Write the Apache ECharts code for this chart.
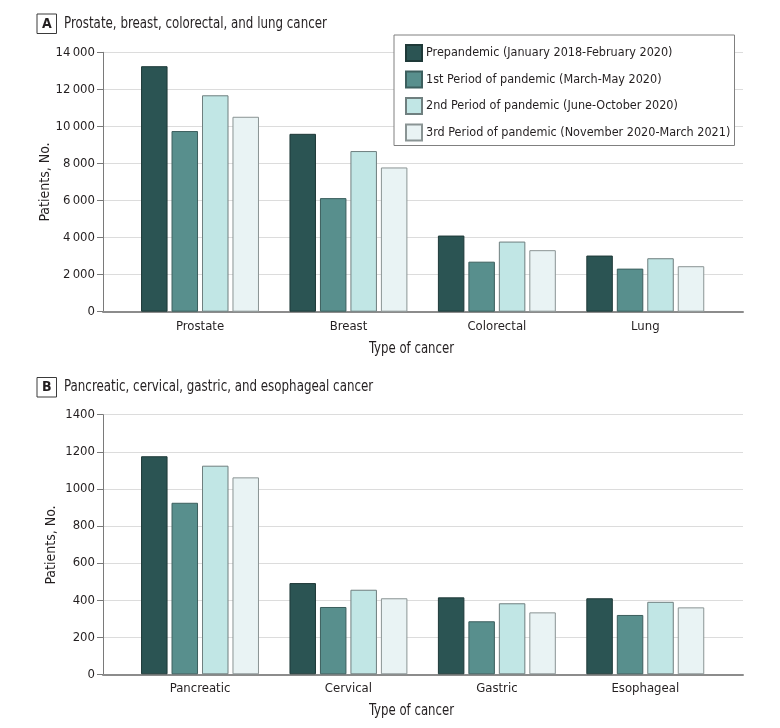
<!DOCTYPE html>
<html>
<head>
<meta charset="utf-8">
<script src="https://cdn.jsdelivr.net/npm/echarts@6/dist/echarts.min.js"></script>
<style>
html,body{margin:0;padding:0;background:#fff;}
#chart{width:780px;height:728px;}
</style>
</head>
<body>
<div id="chart"></div>
<script>
// ---- data ----
const seriesNames = [
  'Prepandemic (January 2018-February 2020)',
  '1st Period of pandemic (March-May 2020)',
  '2nd Period of pandemic (June-October 2020)',
  '3rd Period of pandemic (November 2020-March 2021)'
];
const categoriesA = ['Prostate', 'Breast', 'Colorectal', 'Lung'];
const prepandemicA = [13250, 9600, 4110, 3030];
const period1A = [9750, 6130, 2700, 2325];
const period2A = [11680, 8670, 3785, 2885];
const period3A = [10520, 7785, 3320, 2455];

const categoriesB = ['Pancreatic', 'Cervical', 'Gastric', 'Esophageal'];
const prepandemicB = [1176, 492, 415, 410];
const period1B = [925, 363, 286, 320];
const period2B = [1125, 456, 383, 391];
const period3B = [1062, 410, 334, 361];

const yTickLabelsA = ['0', '2\u2009000', '4\u2009000', '6\u2009000', '8\u2009000', '10\u2009000', '12\u2009000', '14\u2009000'];
const yTickLabelsB = ['0', '200', '400', '600', '800', '1000', '1200', '1400'];

const titleA = 'Prostate, breast, colorectal, and lung cancer';
const titleB = 'Pancreatic, cervical, gastric, and esophageal cancer';
const yName = 'Patients, No.';
const xName = 'Type of cancer';

// ---- styling ----
const FONT = "'Liberation Sans Narrow','Arial Narrow','DejaVu Sans Condensed',Roboto,sans-serif";
const fills = ['#2b5453', '#588f8d', '#c1e6e5', '#e9f3f4'];
const borders = ['#1e3938', '#3c5f5e', '#6f7f7f', '#8a9494'];
const TXT = '#231f20';

const chart = echarts.init(document.getElementById('chart'), null, {renderer: 'canvas'});

const panels = [
  {top: 52.3, height: 259.4, max: 14000, interval: 2000, labels: yTickLabelsA, cats: categoriesA,
   data: [prepandemicA, period1A, period2A, period3A]},
  {top: 414.7, height: 259.6, max: 1400, interval: 200, labels: yTickLabelsB, cats: categoriesB,
   data: [prepandemicB, period1B, period2B, period3B]}
];

const grid = [], xAxis = [], yAxis = [], series = [];
panels.forEach((p, i) => {
  grid.push({left: 103, right: 37, top: p.top, height: p.height});
  grid.push({left: 125.8, right: 60.5, top: p.top, height: p.height});
  const go = grid.length - 2, gi = grid.length - 1;
  xAxis.push({gridIndex: go, type: 'value', min: 0, max: 1, show: true,
    axisLine: {show: true, onZero: false, lineStyle: {color: '#8c8c8c', width: 2}},
    axisTick: {show: false}, axisLabel: {show: false}, splitLine: {show: false}});
  xAxis.push({gridIndex: gi, type: 'category', data: p.cats,
    axisLine: {show: false}, axisTick: {show: false},
    axisLabel: {margin: 8, fontSize: 13, color: TXT, fontFamily: FONT}});
  yAxis.push({gridIndex: go, type: 'value', min: 0, max: p.max, interval: p.interval,
    axisLine: {show: true, lineStyle: {color: '#7a7a7a', width: 1}},
    axisTick: {show: true, length: 6, lineStyle: {color: '#7a7a7a'}},
    axisLabel: {margin: 8, fontSize: 13, color: TXT, fontFamily: FONT,
      formatter: v => p.labels[Math.round(v / p.interval)]},
    splitLine: {show: true, lineStyle: {color: '#dcdcdc', width: 1}}});
  yAxis.push({gridIndex: gi, type: 'value', min: 0, max: p.max, interval: p.interval, show: false});
  p.data.forEach((d, k) => {
    series.push({
      name: seriesNames[k], type: 'bar', xAxisIndex: xAxis.length - 1, yAxisIndex: yAxis.length - 1,
      data: d, barWidth: 26.5, barGap: '15%',
      itemStyle: {color: fills[k], borderColor: borders[k], borderWidth: 1},
      emphasis: {disabled: true}, animation: false
    });
  });
});

const graphic = [
  {type: 'rect', left: 393.5, top: 34.5, z: 3, shape: {width: 340.5, height: 110.5},
   style: {fill: '#fff', stroke: '#808080', lineWidth: 1}},
  {type: 'rect', x: 37, y: 14, shape: {width: 19.5, height: 19.5},
   style: {fill: '#fff', stroke: '#3a3a3a', lineWidth: 1}},
  {type: 'text', x: 46.8, y: 24, style: {text: 'A', fill: TXT, font: "bold 14px " + FONT, textAlign: 'center', textVerticalAlign: 'middle'}},
  {type: 'text', x: 64, y: 24, scaleX: 0.88, style: {text: titleA, fill: TXT, font: "15px " + FONT, textAlign: 'left', textVerticalAlign: 'middle'}},
  {type: 'rect', x: 37, y: 377.5, shape: {width: 19.5, height: 19.5},
   style: {fill: '#fff', stroke: '#3a3a3a', lineWidth: 1}},
  {type: 'text', x: 46.8, y: 387.3, style: {text: 'B', fill: TXT, font: "bold 14px " + FONT, textAlign: 'center', textVerticalAlign: 'middle'}},
  {type: 'text', x: 64, y: 387.3, scaleX: 0.88, style: {text: titleB, fill: TXT, font: "15px " + FONT, textAlign: 'left', textVerticalAlign: 'middle'}},
  {type: 'text', x: 45, y: 182, rotation: Math.PI / 2, style: {text: yName, fill: TXT, font: "14px " + FONT, textAlign: 'center', textVerticalAlign: 'middle'}},
  {type: 'text', x: 51, y: 545, rotation: Math.PI / 2, style: {text: yName, fill: TXT, font: "14px " + FONT, textAlign: 'center', textVerticalAlign: 'middle'}},
  {type: 'text', x: 411.5, y: 349.3, scaleX: 0.87, style: {text: xName, fill: TXT, font: "15px " + FONT, textAlign: 'center', textVerticalAlign: 'middle'}},
  {type: 'text', x: 411.5, y: 710.7, scaleX: 0.87, style: {text: xName, fill: TXT, font: "15px " + FONT, textAlign: 'center', textVerticalAlign: 'middle'}}
];

chart.setOption({
  animation: false,
  textStyle: {fontFamily: FONT, color: TXT},
  grid: grid, xAxis: xAxis, yAxis: yAxis, series: series,
  legend: {
    data: seriesNames, orient: 'vertical', left: 405, top: 44, z: 4,
    itemWidth: 16, itemHeight: 16, itemGap: 8.5, padding: 0, icon: 'rect',
    textStyle: {fontSize: 12.5, color: TXT, fontFamily: FONT, padding: [0, 0, 0, -1]},
    selectedMode: false
  },
  graphic: graphic
});
</script>
</body>
</html>
